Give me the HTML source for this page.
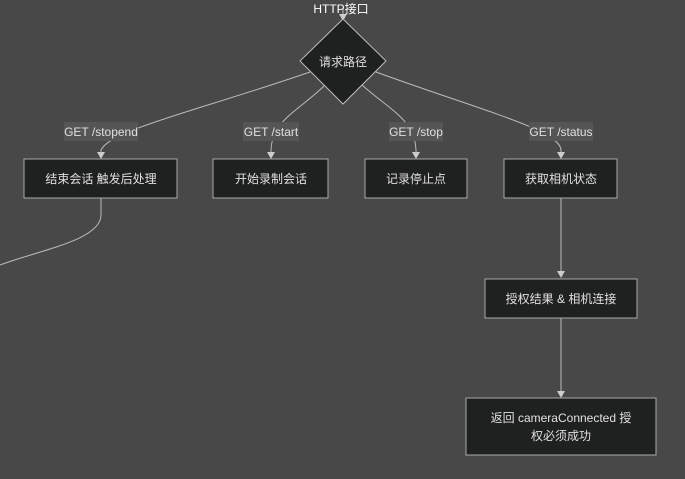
<!DOCTYPE html>
<html><head><meta charset="utf-8"><style>
body{margin:0;width:685px;height:474px;background:#474847;overflow:hidden}
svg text{font-family:"Liberation Sans","Noto Sans CJK SC",sans-serif;font-size:12px;fill:#e0e0e0}
</style></head><body>
<svg width="685" height="474" viewBox="0 0 685 474">
<defs><marker id="a" markerWidth="8" markerHeight="8" refX="6" refY="4" orient="auto"><path d="M0,0L7,4L0,8z" fill="#ccc"/></marker></defs>
<g fill="none" stroke="#bbb" stroke-width="1">
<path d="M343,8V20" marker-end="url(#a)"/>
<path d="M310,72C200,110 110,130 101,150V158" marker-end="url(#a)"/>
<path d="M325,85C300,110 272,120 271,150V158" marker-end="url(#a)"/>
<path d="M362,85C390,110 415,120 416,150V158" marker-end="url(#a)"/>
<path d="M376,72C480,110 560,130 561,150V158" marker-end="url(#a)"/>
<path d="M101,198V215C101,240 40,250 0,265"/>
<path d="M561,198V277" marker-end="url(#a)"/>
<path d="M561,318V397" marker-end="url(#a)"/>
</g>
<g fill="#555">
<rect x="64" y="122" width="74" height="19"/>
<rect x="243" y="122" width="56" height="19"/>
<rect x="389" y="122" width="54" height="19"/>
<rect x="529" y="122" width="64" height="19"/>
</g>
<text x="101" y="136" text-anchor="middle">GET /stopend</text>
<text x="271" y="136" text-anchor="middle">GET /start</text>
<text x="416" y="136" text-anchor="middle">GET /stop</text>
<text x="561" y="136" text-anchor="middle">GET /status</text>
<text x="341" y="13" text-anchor="middle" style="fill:#fff">HTTP接口</text>
<path d="M343,19L386,61L343,104L300,61Z" fill="#1f2020" stroke="#bbb"/>
<text x="343" y="66" text-anchor="middle">请求路径</text>
<g fill="#1f2020" stroke="#aaa">
<rect x="24" y="159" width="153" height="39"/>
<rect x="213" y="159" width="115" height="39"/>
<rect x="365" y="159" width="102" height="39"/>
<rect x="504" y="159" width="113" height="39"/>
<rect x="485" y="279" width="152" height="39"/>
<rect x="466" y="398" width="190" height="57"/>
</g>
<text x="101" y="183" text-anchor="middle">结束会话 触发后处理</text>
<text x="271" y="183" text-anchor="middle">开始录制会话</text>
<text x="416" y="183" text-anchor="middle">记录停止点</text>
<text x="561" y="183" text-anchor="middle">获取相机状态</text>
<text x="561" y="303" text-anchor="middle">授权结果 &amp; 相机连接</text>
<text x="561" y="422" text-anchor="middle">返回 cameraConnected 授</text>
<text x="561" y="440" text-anchor="middle">权必须成功</text>
</svg>
</body></html>
